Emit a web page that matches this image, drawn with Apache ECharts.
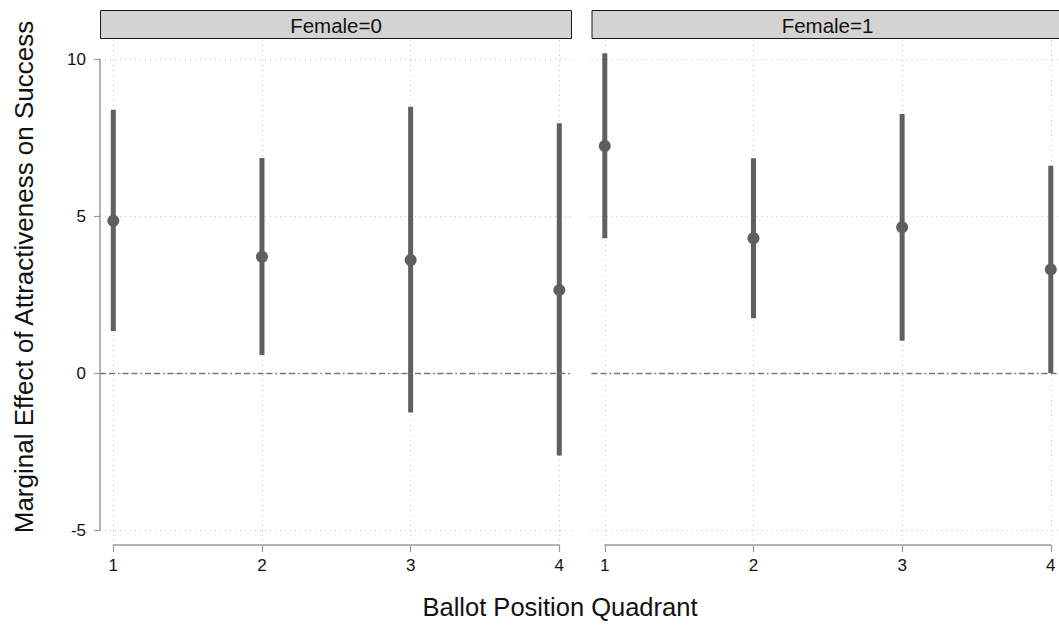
<!DOCTYPE html>
<html>
<head>
<meta charset="utf-8">
<script src="https://cdn.jsdelivr.net/npm/echarts@6/dist/echarts.min.js"></script>
<style>
html,body{margin:0;padding:0;background:#fff;}
#chart{width:1059px;height:628px;}
</style>
</head>
<body>
<div id="chart"></div>
<script>
// ---- data ----
const quadrants = [1, 2, 3, 4];
const panelLabels = ['Female=0', 'Female=1'];
const female0Est = [4.85, 3.70, 3.60, 2.64];
const female0Lo  = [1.34, 0.57, -1.26, -2.63];
const female0Hi  = [8.38, 6.85, 8.48, 7.95];
const female1Est = [7.23, 4.29, 4.64, 3.30];
const female1Lo  = [4.29, 1.74, 1.03, 0.00];
const female1Hi  = [10.18, 6.84, 8.25, 6.60];
const yTicks = [-5, 0, 5, 10];
const xTitle = 'Ballot Position Quadrant';
const yTitle = 'Marginal Effect of Attractiveness on Success';

const FONT = 'Liberation Sans';
const BAR = '#5f5f5f';
const GRIDC = '#c4c4c4';
const AXISC = '#9a9a9a';

const panels = [
  {label: panelLabels[0], est: female0Est, lo: female0Lo, hi: female0Hi, left: 100},
  {label: panelLabels[1], est: female1Est, lo: female1Lo, hi: female1Hi, left: 591.5}
];
const PW = 472, XOFF = 13.3, XSPAN = 446;
const YTOP = 59, YH = 471, PTOP = 40, PH = 505;

const grid = [], xAxis = [], yAxis = [], series = [], graphic = [];

panels.forEach((p, pi) => {
  const base = pi * 3;
  grid.push({left: p.left, top: YTOP, width: PW, height: YH});
  grid.push({left: p.left + XOFF, top: PTOP, width: XSPAN, height: PH});
  grid.push({left: p.left + XOFF, top: YTOP, width: XSPAN, height: YH});

  xAxis.push({gridIndex: base, type: 'value', min: 0, max: 1, show: false});
  yAxis.push({
    gridIndex: base, type: 'value',
    min: yTicks[0], max: yTicks[yTicks.length - 1], interval: yTicks[1] - yTicks[0],
    axisLine: {show: pi === 0, lineStyle: {color: AXISC, width: 1.5}},
    axisTick: {show: pi === 0, length: 6, lineStyle: {color: AXISC, width: 1.2}},
    axisLabel: {show: pi === 0, margin: 14, fontSize: 17, fontFamily: FONT, color: '#111'},
    splitLine: {show: true, lineStyle: {color: GRIDC, type: [1, 4], width: 1}}
  });
  xAxis.push({
    gridIndex: base + 1, type: 'value', min: quadrants[0], max: quadrants[quadrants.length - 1], interval: 1,
    axisLine: {show: true, onZero: false, lineStyle: {color: AXISC, width: 1.5}},
    axisTick: {show: true, length: 7, lineStyle: {color: AXISC, width: 1.2}},
    axisLabel: {show: true, margin: 12, fontSize: 17, fontFamily: FONT, color: '#111'},
    splitLine: {show: true, lineStyle: {color: GRIDC, type: [1, 4], width: 1}}
  });
  yAxis.push({gridIndex: base + 1, type: 'value', min: 0, max: 1, show: false});
  xAxis.push({gridIndex: base + 2, type: 'value', min: quadrants[0], max: quadrants[quadrants.length - 1], show: false});
  yAxis.push({gridIndex: base + 2, type: 'value', min: yTicks[0], max: yTicks[yTicks.length - 1], show: false});

  series.push({
    type: 'line', xAxisIndex: base, yAxisIndex: base, data: [[0.5, 0]],
    symbol: 'none', silent: true, lineStyle: {opacity: 0},
    markLine: {
      silent: true, symbol: 'none', label: {show: false},
      lineStyle: {color: '#777', width: 1.3, type: [6, 3, 6, 3, 1.5, 3]},
      data: [{yAxis: 0}]
    }
  });
  series.push({
    type: 'custom', xAxisIndex: base + 2, yAxisIndex: base + 2, clip: false,
    data: quadrants.map((q, i) => [q, p.lo[i], p.hi[i], p.est[i]]),
    renderItem: function (params, api) {
      const x = api.value(0);
      const a = api.coord([x, api.value(1)]);
      const b = api.coord([x, api.value(2)]);
      const e = api.coord([x, api.value(3)]);
      return {
        type: 'group',
        children: [
          {type: 'line', shape: {x1: a[0], y1: a[1], x2: b[0], y2: b[1]},
           style: {stroke: BAR, lineWidth: 5, lineCap: 'butt'}},
          {type: 'circle', shape: {cx: e[0], cy: e[1], r: 6}, style: {fill: BAR}}
        ]
      };
    }
  });

  graphic.push({
    type: 'rect', silent: true, z: 10,
    shape: {x: p.left + 0.5, y: 10.5, width: PW - 1, height: 28},
    style: {fill: '#d3d3d3', stroke: '#1a1a1a', lineWidth: 1}
  });
  graphic.push({
    type: 'text', silent: true, z: 11, x: p.left + PW / 2, y: 25,
    style: {text: p.label, font: '20.5px ' + FONT, fill: '#111',
            textAlign: 'center', textVerticalAlign: 'middle', align: 'center', verticalAlign: 'middle'}
  });
});

graphic.push({
  type: 'text', silent: true, x: 560, y: 607,
  style: {text: xTitle, font: '25.5px ' + FONT, fill: '#111',
          textAlign: 'center', textVerticalAlign: 'middle', align: 'center', verticalAlign: 'middle'}
});
graphic.push({
  type: 'text', silent: true, x: 24, y: 277, rotation: Math.PI / 2,
  style: {text: yTitle, font: '26px ' + FONT, fill: '#111',
          textAlign: 'center', textVerticalAlign: 'middle', align: 'center', verticalAlign: 'middle'}
});

const chart = echarts.init(document.getElementById('chart'), null, {renderer: 'svg'});
chart.setOption({
  animation: false,
  backgroundColor: '#fff',
  grid: grid,
  xAxis: xAxis,
  yAxis: yAxis,
  series: series,
  graphic: graphic
});
</script>
</body>
</html>
